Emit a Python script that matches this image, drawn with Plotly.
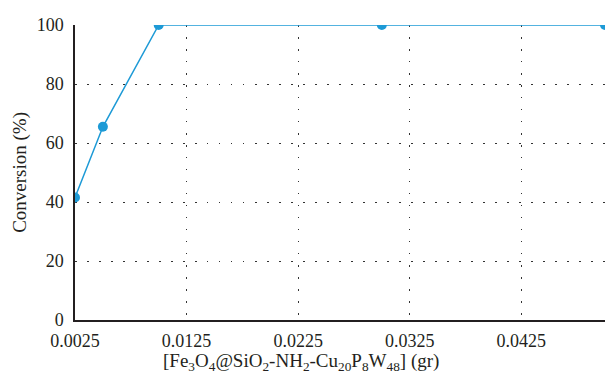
import plotly.graph_objects as go

catalyst_gr = [0.0025, 0.005, 0.01, 0.03, 0.05]
conversion_pct = [41.5, 65.5, 100, 100, 100]

x_ticks = [0.0025, 0.0125, 0.0225, 0.0325, 0.0425]
x_tick_labels = ["0.0025", "0.0125", "0.0225", "0.0325", "0.0425"]
y_ticks = [0, 20, 40, 60, 80, 100]

FONT = "Liberation Serif"
TXT = "#231f20"
BLUE = "#1d9ad6"

fig = go.Figure()
fig.add_trace(go.Scatter(
    x=catalyst_gr, y=conversion_pct, mode="lines+markers",
    line=dict(color=BLUE, width=1.5),
    marker=dict(color=BLUE, size=10),
    showlegend=False,
))

fig.update_layout(
    width=605, height=378,
    margin=dict(l=75, r=0, t=25, b=58),
    paper_bgcolor="white", plot_bgcolor="white",
    font=dict(family=FONT, size=18, color=TXT),
    xaxis=dict(
        range=[0.0025, 0.05], tickvals=x_ticks, ticktext=x_tick_labels,
        showline=True, linecolor=TXT, linewidth=1.5,
        showgrid=True, gridcolor="#333333", gridwidth=1.2, griddash="1.5px,10.5px",
        zeroline=False, ticks="", ticklabelstandoff=4,
        tickfont=dict(family=FONT, size=18, color=TXT),
    ),
    yaxis=dict(
        range=[0, 100], tickvals=y_ticks,
        showline=True, linecolor=TXT, linewidth=1.5,
        showgrid=True, gridcolor="#333333", gridwidth=1.2, griddash="1.5px,10.5px",
        zeroline=False, ticks="", ticklabelstandoff=6,
        tickfont=dict(family=FONT, size=18, color=TXT),
    ),
    annotations=[
        dict(text="[Fe<sub>3</sub>O<sub>4</sub>@SiO<sub>2</sub>-NH<sub>2</sub>-Cu<sub>20</sub>P<sub>8</sub>W<sub>48</sub>] (gr)",
             xref="paper", yref="paper", x=0.426, y=-0.142, xanchor="center", yanchor="middle",
             showarrow=False, font=dict(family=FONT, size=19, color=TXT)),
        dict(text="Conversion (%)", textangle=-90,
             xref="paper", yref="paper", x=-0.105, y=0.5, xanchor="center", yanchor="middle",
             showarrow=False, font=dict(family=FONT, size=19, color=TXT)),
    ],
)

fig.write_html("out.html", config={"displayModeBar": False},
               post_script="document.body.style.margin='0';document.body.style.overflow='hidden';")
